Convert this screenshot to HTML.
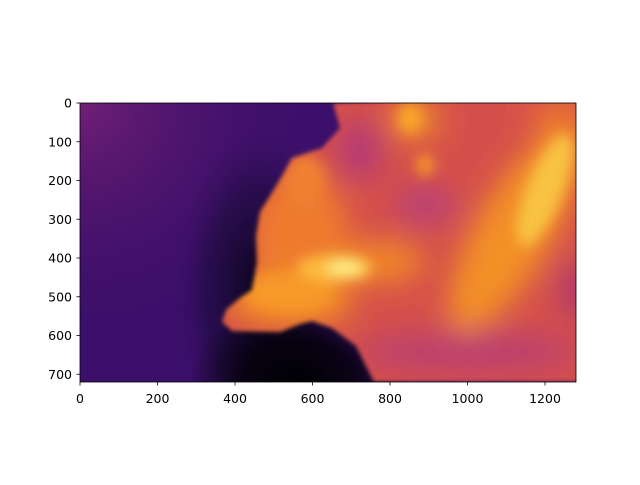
<!DOCTYPE html>
<html><head><meta charset="utf-8"><style>
body{margin:0;background:#fff;}
svg text{font-family:"DejaVu Sans","Liberation Sans",sans-serif;font-size:12.5px;fill:#000;}
</style></head><body>
<svg width="640" height="480" xmlns="http://www.w3.org/2000/svg">
<defs>
<filter id="b1" filterUnits="userSpaceOnUse" x="0" y="0" width="640" height="480"><feGaussianBlur stdDeviation="14"/></filter>
<filter id="b2" filterUnits="userSpaceOnUse" x="0" y="0" width="640" height="480"><feGaussianBlur stdDeviation="6"/></filter>
<filter id="b0" filterUnits="userSpaceOnUse" x="0" y="0" width="640" height="480"><feGaussianBlur stdDeviation="2"/></filter>
<clipPath id="plot"><rect x="80" y="103" width="496" height="279"/></clipPath>
<clipPath id="face"><path d="M333,103 L340,128 L322,148 L292,158 L282,176 L270,196 L260,212 L256,236 L257,262 L252,290 L240,298 L226,310 L222,322 L232,331 L280,332 L300,324 L312,321 L332,328 L356,346 L374,382 L600,382 L600,90 Z"/></clipPath>
<radialGradient id="tl" cx="80" cy="103" r="260" gradientUnits="userSpaceOnUse">
<stop offset="0" stop-color="#711f76"/><stop offset="1" stop-color="#3a0e67" stop-opacity="0"/></radialGradient>
<radialGradient id="dk1"><stop offset="0" stop-color="#05030f" stop-opacity="0.9"/><stop offset="0.6" stop-color="#150a33" stop-opacity="0.5"/><stop offset="1" stop-color="#3a0e67" stop-opacity="0"/></radialGradient>
<radialGradient id="dk2"><stop offset="0" stop-color="#000004"/><stop offset="0.5" stop-color="#000004" stop-opacity="0.8"/><stop offset="1" stop-color="#000004" stop-opacity="0"/></radialGradient>
</defs>
<g clip-path="url(#plot)">
<rect x="80" y="103" width="496" height="279" fill="#3b0f6a"/>
<rect x="80" y="103" width="496" height="279" fill="url(#tl)"/>
<ellipse cx="260" cy="290" rx="90" ry="170" fill="url(#dk1)"/>
<ellipse cx="300" cy="380" rx="110" ry="80" fill="url(#dk2)"/>
<g filter="url(#b0)">
<g clip-path="url(#face)">
<rect x="200" y="90" width="400" height="300" fill="#d4504a"/>
<g filter="url(#b1)">
<ellipse cx="300" cy="240" rx="50" ry="70" fill="#ee7a2e"/>
<ellipse cx="290" cy="300" rx="65" ry="28" fill="#f28a28"/>
<ellipse cx="360" cy="150" rx="22" ry="30" fill="#b53a76"/>
<ellipse cx="425" cy="205" rx="30" ry="18" fill="#b8407a"/>
<ellipse cx="470" cy="352" rx="110" ry="20" fill="#bc4070"/>
<ellipse cx="575" cy="290" rx="12" ry="30" fill="#a83278"/>
<ellipse cx="415" cy="120" rx="25" ry="20" fill="#f08a2c"/>
<ellipse cx="560" cy="120" rx="30" ry="20" fill="#ea7230"/>
<ellipse cx="515" cy="230" rx="38" ry="115" fill="#f39026" transform="rotate(30 515 230)"/>
<ellipse cx="380" cy="262" rx="45" ry="22" fill="#f0842c"/>
</g>
<g filter="url(#b2)">
<ellipse cx="545" cy="190" rx="18" ry="60" fill="#f8c243" transform="rotate(22 545 190)"/>
<ellipse cx="290" cy="292" rx="45" ry="20" fill="#f7982a"/>
<ellipse cx="335" cy="268" rx="38" ry="14" fill="#fbbb3c"/>
<ellipse cx="345" cy="268" rx="18" ry="7" fill="#fcf08a"/>
<ellipse cx="410" cy="118" rx="12" ry="15" fill="#f9a62a"/>
<ellipse cx="425" cy="165" rx="9" ry="11" fill="#f7952a"/>
<ellipse cx="305" cy="180" rx="20" ry="25" fill="#f08030"/>
</g>
</g>
</g>
</g>
<g id="axes">
<rect x="80" y="103" width="496" height="279" fill="none" stroke="#000" stroke-width="0.8"/>
</g>
<script>
const xTicks=[0,200,400,600,800,1000,1200];
const yTicks=[0,100,200,300,400,500,600,700];
const W=1280,H=720;
const sx=v=>80+v*496/W, sy=v=>103+v*279/H;
const g=document.getElementById('axes');
const NS='http://www.w3.org/2000/svg';
xTicks.forEach(t=>{
 const l=document.createElementNS(NS,'line');l.setAttribute('x1',sx(t));l.setAttribute('x2',sx(t));l.setAttribute('y1',382);l.setAttribute('y2',385.5);l.setAttribute('stroke','#000');l.setAttribute('stroke-width','0.8');
 
 g.appendChild(l);
 const s=document.createElementNS(NS,'text');s.setAttribute('x',sx(t));s.setAttribute('y',403);s.setAttribute('text-anchor','middle');s.textContent=t;
 
 g.appendChild(s);
});
yTicks.forEach(t=>{
 const l=document.createElementNS(NS,'line');l.setAttribute('x1',76.5);l.setAttribute('x2',80);l.setAttribute('y1',sy(t));l.setAttribute('y2',sy(t));l.setAttribute('stroke','#000');l.setAttribute('stroke-width','0.8');
 
 g.appendChild(l);
 const s=document.createElementNS(NS,'text');s.setAttribute('x',72);s.setAttribute('y',sy(t)+4.5);s.setAttribute('text-anchor','end');s.textContent=t;
 
 g.appendChild(s);
});
</script>
</svg>
</body></html>
